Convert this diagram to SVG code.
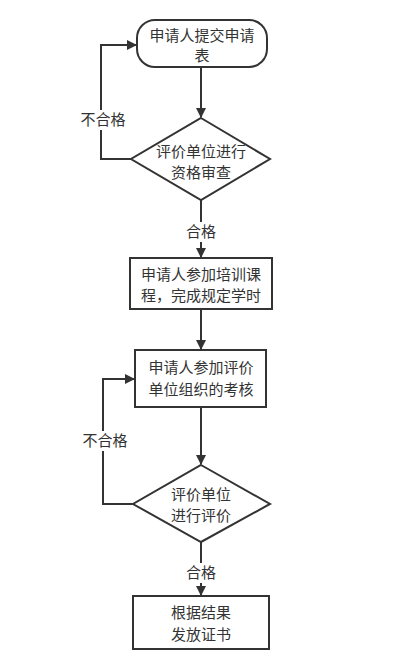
<svg xmlns="http://www.w3.org/2000/svg" width="408" height="669" viewBox="0 0 408 669">
<style>
.n{fill:#fff;stroke:#333;stroke-width:2}
.t{font-family:"Noto Sans CJK SC","Liberation Sans",sans-serif;font-size:15px;fill:#333;text-anchor:middle}
.c{fill:none;stroke:#333;stroke-width:2}
.lb{fill:#fff}
</style>
<defs>
<marker id="a" markerWidth="10" markerHeight="10" refX="9" refY="5" orient="auto" markerUnits="userSpaceOnUse">
<path d="M0,0 L10,5 L0,10 Z" fill="#333"/>
</marker>
</defs>
<rect width="408" height="669" fill="#fff"/>
<g id="connectors">
<path class="c" d="M201,67 V117" marker-end="url(#a)"/>
<path class="c" d="M131,159 H101 V45 H136" marker-end="url(#a)"/>
<path class="c" d="M201,200 V257" marker-end="url(#a)"/>
<path class="c" d="M201,309 V349" marker-end="url(#a)"/>
<path class="c" d="M201,407 V464" marker-end="url(#a)"/>
<path class="c" d="M133,504 H103 V379 H134" marker-end="url(#a)"/>
<path class="c" d="M201,542 V595" marker-end="url(#a)"/>
<rect class="lb" x="77" y="110" width="52" height="20"/>
<text class="t" x="103" y="125">不合格</text>
<rect class="lb" x="183" y="222" width="36" height="20"/>
<text class="t" x="201" y="237">合格</text>
<rect class="lb" x="79" y="431" width="52" height="20"/>
<text class="t" x="105" y="446">不合格</text>
<rect class="lb" x="183" y="563" width="36" height="20"/>
<text class="t" x="201" y="578">合格</text>
</g>
<g id="n1">
<rect class="n" x="137" y="20" width="130" height="47" rx="18" ry="18"/>
<text class="t" x="202" y="41">申请人提交申请</text>
<text class="t" x="202" y="61">表</text>
</g>
<g id="n2">
<polygon class="n" points="201,118 270,159 201,200 131,159"/>
<text class="t" x="201" y="157">评价单位进行</text>
<text class="t" x="201" y="178">资格审查</text>
</g>
<g id="n3">
<rect class="n" x="130" y="258" width="142" height="51"/>
<text class="t" x="201" y="280">申请人参加培训课</text>
<text class="t" x="201" y="301">程，完成规定学时</text>
</g>
<g id="n4">
<rect class="n" x="135" y="350" width="131" height="57"/>
<text class="t" x="201" y="373">申请人参加评价</text>
<text class="t" x="201" y="395">单位组织的考核</text>
</g>
<g id="n5">
<polygon class="n" points="201,465 270,504 201,542 133,504"/>
<text class="t" x="201" y="500">评价单位</text>
<text class="t" x="201" y="521">进行评价</text>
</g>
<g id="n6">
<rect class="n" x="133" y="596" width="136" height="53"/>
<text class="t" x="201" y="618">根据结果</text>
<text class="t" x="201" y="640">发放证书</text>
</g>
</svg>
